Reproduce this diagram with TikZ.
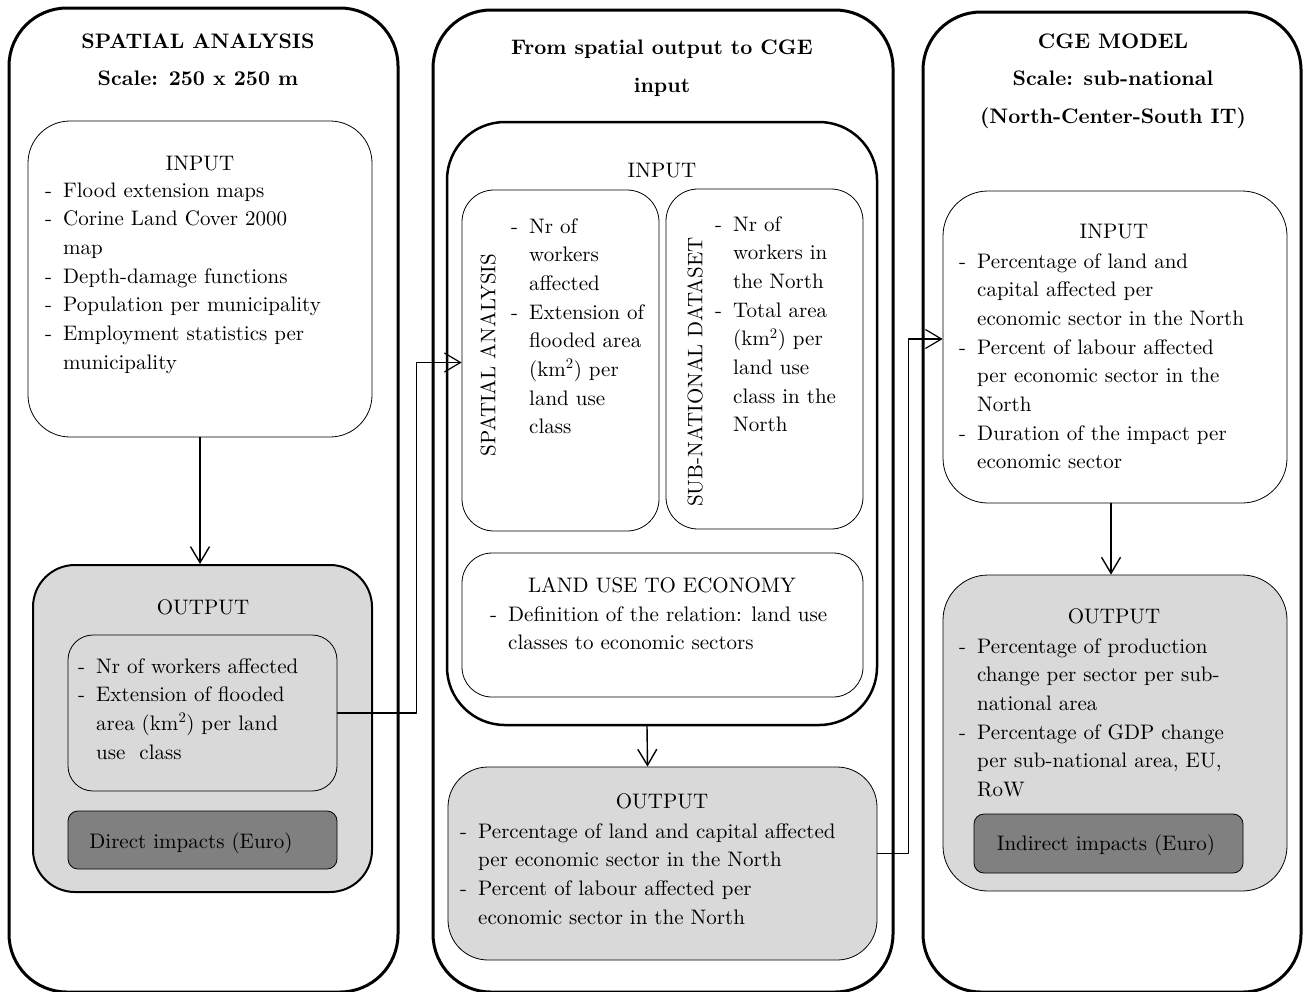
\documentclass[tikz,border=0pt]{standalone}
\usepackage{fontspec}
\setmainfont{lmroman10}[Extension=.otf,UprightFont=*-regular,BoldFont=*-bold,ItalicFont=*-italic,BoldItalicFont=*-bolditalic]
\usepackage{tikz}
\usetikzlibrary{arrows.meta}
\definecolor{boxgray}{HTML}{D9D9D9}
\definecolor{impgray}{HTML}{808080}
\newcommand{\dashlist}[1]{\begin{tabular}[t]{@{}p{18pt}@{}l@{}}#1\end{tabular}}

\begin{document}
\begin{tikzpicture}[line cap=round,line join=round,x=1pt,y=-1pt,
  font=\fontsize{21}{28.7}\selectfont,
  panel/.style={draw,line width=3pt,rounded corners=58pt,inner sep=0pt},
  inbox/.style={draw,line width=0.8pt,rounded corners=42pt,inner sep=0pt},
  subbox/.style={draw,line width=0.8pt,rounded corners=32pt,inner sep=0pt},
  outbox/.style={draw,fill=boxgray,line width=0.8pt,rounded corners=42pt,inner sep=0pt},
  impact/.style={draw,fill=impgray,line width=0.8pt,rounded corners=10pt,inner sep=0pt},
  head/.style={font=\bfseries\fontsize{21}{37.5}\selectfont,align=center,inner sep=0pt},
  label/.style={anchor=base,inner sep=0pt},
  lst/.style={anchor=base west,inner sep=0pt},
  flow/.style={line width=1.4pt,-{Straight Barb[length=16pt,width=19pt]}}]

\useasboundingbox (0,0) rectangle (1305,991);

% panels
\node[panel,minimum width=389pt,minimum height=984pt] (lpanel) at (203.5,500) {};
\node[panel,minimum width=460pt,minimum height=982pt] (mpanel) at (663,501) {};
\node[panel,minimum width=378pt,minimum height=980pt] (rpanel) at (1112,502) {};

\node[head] (lhead) at (198,60) {SPATIAL ANALYSIS\\Scale: 250 x 250 m};
\node[head] (mhead) at (662,68) {From spatial output to CGE\\input};
\node[head] (rhead) at (1113,81) {CGE MODEL\\Scale: sub-national\\(North-Center-South IT)};

% left column
\node[inbox,minimum width=344pt,minimum height=316pt] (linput) at (200,279) {};
\node[outbox,line width=2pt,minimum width=339pt,minimum height=327pt] (loutput) at (202.5,728.5) {};
\node[outbox,rounded corners=25pt,minimum width=269pt,minimum height=156pt] (lres) at (202.5,713) {};
\node[impact,minimum width=269pt,minimum height=58pt] (ldirect) at (202.5,840) {};

\node[label] (lin) at (200,170) {INPUT};
\node[lst] (linlist) at (45,197) {\dashlist{-&Flood extension maps\\-&Corine Land Cover 2000\\&map\\-&Depth-damage functions\\-&Population per municipality\\-&Employment statistics per\\&municipality}};
\node[label] (lout) at (203,614) {OUTPUT};
\node[lst] (loutlist) at (78,673) {\dashlist{-&Nr of workers affected\\-&Extension of flooded\\&area (km\textsuperscript{2}) per land\\&use\ \ class}};
\node[label] (ldirtext) at (191,848) {Direct impacts (Euro)};

% middle column
\node[inbox,line width=2.5pt,rounded corners=58pt,minimum width=430pt,minimum height=603pt] (minput) at (662,423.5) {};
\node[subbox,minimum width=197pt,minimum height=341pt] (mspatial) at (560.5,360.5) {};
\node[subbox,minimum width=197pt,minimum height=340pt] (msubnat) at (764.5,359) {};
\node[subbox,rounded corners=30pt,minimum width=401pt,minimum height=144pt] (mland) at (662.5,625) {};
\node[outbox,rounded corners=40pt,minimum width=429pt,minimum height=193pt] (moutput) at (662.5,863.5) {};

\node[label] (min) at (662,177) {INPUT};
\node[rotate=90,inner sep=0pt] (mspatlab) at (488,355) {SPATIAL ANALYSIS};
\node[rotate=90,inner sep=0pt] (msublab) at (695,372) {SUB-NATIONAL DATASET};
\node[lst] (mspatlist) at (511,233) {\dashlist{-&Nr of\\&workers\\&affected\\-&Extension of\\&flooded area\\&(km\textsuperscript{2}) per\\&land use\\&class}};
\node[lst] (msublist) at (715,231) {\dashlist{-&Nr of\\&workers in\\&the North\\-&Total area\\&(km\textsuperscript{2}) per\\&land use\\&class in the\\&North}};
\node[label] (mlandlab) at (662,592) {LAND USE TO ECONOMY};
\node[lst] (mlandlist) at (490,621) {\dashlist{-&Definition of the relation: land use\\&classes to economic sectors}};
\node[label] (mout) at (662,808) {OUTPUT};
\node[lst] (moutlist) at (460,838) {\dashlist{-&Percentage of land and capital affected\\&per economic sector in the North\\-&Percent of labour affected per\\&economic sector in the North}};

% right column
\node[inbox,rounded corners=45pt,minimum width=344pt,minimum height=312pt] (rinput) at (1115,347) {};
\node[outbox,rounded corners=45pt,minimum width=344pt,minimum height=316pt] (routput) at (1115,733) {};
\node[impact,minimum width=269pt,minimum height=59pt] (rindirect) at (1108.5,843.5) {};

\node[label] (rin) at (1114,238) {INPUT};
\node[lst] (rinlist) at (959,268) {\dashlist{-&Percentage of land and\\&capital affected per\\&economic sector in the North\\-&Percent of labour affected\\&per economic sector in the\\&North\\-&Duration of the impact per\\&economic sector}};
\node[label] (rout) at (1114,623) {OUTPUT};
\node[lst] (routlist) at (959,653) {\dashlist{-&Percentage of production\\&change per sector per sub-\\&national area\\-&Percentage of GDP change\\&per sub-national area, EU,\\&RoW}};
\node[label] (rindtext) at (1106,850) {Indirect impacts (Euro)};

% connectors
\draw[flow] (linput.south) -- (linput.south |- loutput.north);
\draw[flow,line width=1.2pt] (lres.east) -- ++(79,0) |- ([yshift=-2pt]mspatial.west);
\draw[flow] ([xshift=-15pt]minput.south) -- ([xshift=-15pt]moutput.north);
\draw[flow,line width=1.2pt] ([yshift=10pt]moutput.east) -- ++(31,0) |- ([yshift=8pt]rinput.west);
\draw[flow] ([xshift=-4pt]rinput.south) -- ([xshift=-4pt]routput.north);
\end{tikzpicture}
\end{document}
